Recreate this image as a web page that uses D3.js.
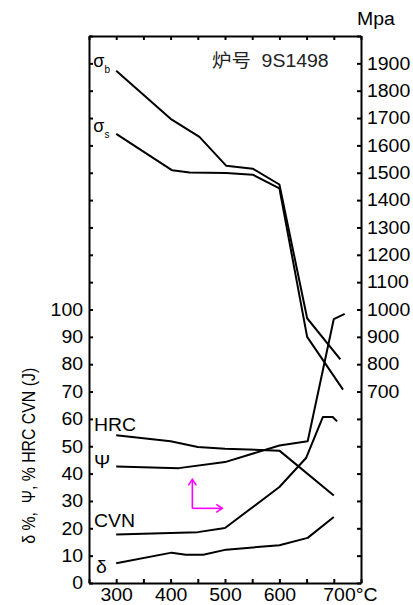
<!DOCTYPE html>
<html>
<head>
<meta charset="utf-8">
<script src="https://cdn.jsdelivr.net/npm/d3@7"></script>
<style>
  body { margin: 0; background: #fff; }
  svg { display: block; font-family: "Liberation Sans", Arial, "Noto Sans CJK SC", sans-serif; }
</style>
</head>
<body>
<div id="chart"></div>
<script>
// 回火温度 (°C)
var temps = [250, 750];
// 左轴：δ %, Ψ %, HRC, CVN (J)
var hrc = [[300, 54.0], [400, 51.8], [450, 49.7], [500, 49.1], [600, 48.4], [700, 32.0]];
var psi = [[300, 42.6], [415, 42.0], [500, 44.2], [600, 50.3], [652, 51.8], [700, 96.5], [720, 98.4]];
var cvn = [[300, 17.7], [450, 18.6], [500, 20.1], [600, 35.1], [649, 45.7], [680, 60.7], [698, 60.7], [706, 59.1]];
var delta = [[300, 7.2], [402, 11.1], [428, 10.3], [460, 10.3], [502, 12.2], [600, 13.8], [652, 16.5], [700, 24.1]];
// 右轴：强度 MPa
var sigmaB = [[300, 1873], [400, 1697], [453, 1631], [502, 1526], [551, 1515], [600, 1457], [651, 968], [712, 818]];
var sigmaS = [[300, 1642], [403, 1509], [435, 1501], [502, 1499], [551, 1493], [600, 1443], [651, 900], [717, 707]];

var W = 413, H = 605;
var margin = { left: 89, right: 52, top: 36, bottom: 22 };
// 原图文字略为横向拉宽
var STRETCH = 1.08;

var svg = d3.select("#chart").append("svg")
    .attr("width", W)
    .attr("height", H);

var x = d3.scaleLinear().domain(temps).range([margin.left, W - margin.right]);
var yL = d3.scaleLinear().domain([0, 200]).range([H - margin.bottom, margin.top]);
var yR = d3.scaleLinear().domain([0, 2000]).range([H - margin.bottom, margin.top]);

// 坐标轴（刻度朝内）
var xTicks = d3.range(250, 751, 50);
var bottom = svg.append("g")
    .attr("transform", "translate(0," + (H - margin.bottom) + ")")
    .call(d3.axisBottom(x).tickValues(xTicks).tickSizeInner(-4).tickSizeOuter(0).tickPadding(5)
        .tickFormat(function (d) {
            if (d % 100 != 0 || d < 300 || d > 700) return "";
            return d == 700 ? "700°C" : d;
        }));
bottom.selectAll(".tick text").filter(function (d) { return d == 700; })
    .attr("text-anchor", "start").attr("dx", -11);

svg.append("g")
    .attr("transform", "translate(0," + margin.top + ")")
    .call(d3.axisTop(x).tickValues(xTicks).tickSizeInner(-4).tickSizeOuter(0).tickFormat(""));

svg.append("g")
    .attr("transform", "translate(" + margin.left + ",0)")
    .call(d3.axisLeft(yL).tickValues(d3.range(0, 201, 10)).tickSizeInner(-4).tickSizeOuter(0).tickPadding(6)
        .tickFormat(function (d) { return d <= 100 ? d : ""; }));

svg.append("g")
    .attr("transform", "translate(" + (W - margin.right) + ",0)")
    .call(d3.axisRight(yR).tickValues(d3.range(0, 2001, 100)).tickSizeInner(-4).tickSizeOuter(0).tickPadding(6)
        .tickFormat(function (d) { return d >= 700 && d <= 1900 ? d : ""; }));

svg.selectAll(".domain").attr("stroke", "#000").attr("stroke-width", 2);
svg.selectAll(".tick line").attr("stroke", "#000").attr("stroke-width", 2);
svg.selectAll(".tick text").attr("font-size", "18px").attr("fill", "#000")
    .attr("font-family", "'Liberation Sans', Arial, sans-serif")
    .attr("class", "wide");

// 曲线
var lineL = d3.line().x(function (d) { return x(d[0]); }).y(function (d) { return yL(d[1]); });
var lineR = d3.line().x(function (d) { return x(d[0]); }).y(function (d) { return yR(d[1]); });

[hrc, psi, cvn, delta].forEach(function (s) {
    svg.append("path").attr("d", lineL(s))
        .attr("fill", "none").attr("stroke", "#000").attr("stroke-width", 2)
        .attr("stroke-linejoin", "round");
});
[sigmaB, sigmaS].forEach(function (s) {
    svg.append("path").attr("d", lineR(s))
        .attr("fill", "none").attr("stroke", "#000").attr("stroke-width", 2)
        .attr("stroke-linejoin", "round");
});

// 曲线标注
function label(t, v, scale, str, sub) {
    var txt = svg.append("text")
        .attr("x", x(t)).attr("y", scale(v))
        .attr("font-size", "18px").attr("fill", "#000")
        .text(str);
    if (sub) {
        txt.append("tspan").attr("font-size", "10px").attr("dy", 6).text(sub);
    } else {
        txt.attr("class", "wide");
    }
}
label(258, 1888, yR, "σ", "b");
label(258, 1648, yR, "σ", "s");
label(259, 55.5, yL, "HRC");
label(259, 42, yL, "Ψ");
label(259, 20.5, yL, "CVN");
label(263, 3.8, yL, "δ");

// 炉号
svg.append("text")
    .attr("x", x(476)).attr("y", yR(1885))
    .attr("font-size", "18px").attr("fill", "#222")
    .attr("class", "wide")
    .style("white-space", "pre")
    .text("炉号  9S1498");

// 单位
svg.append("text")
    .attr("x", W - margin.right - 4).attr("y", 25)
    .attr("font-size", "18px").attr("fill", "#000")
    .attr("class", "wide")
    .text("Mpa");

// 左轴标题
svg.append("text")
    .attr("transform", "translate(35," + yL(46.5) + ") rotate(-90)")
    .attr("text-anchor", "middle")
    .attr("font-size", "18px").attr("fill", "#000")
    .attr("textLength", 176).attr("lengthAdjust", "spacingAndGlyphs")
    .style("white-space", "pre")
    .text("δ %,  Ψ, % HRC CVN (J)");

// 横向拉宽文字
svg.selectAll("text.wide").each(function () {
    var len = this.getComputedTextLength();
    if (len > 0) {
        d3.select(this).attr("textLength", len * STRETCH).attr("lengthAdjust", "spacingAndGlyphs");
    }
});

// 品红色箭头
var ax = x(440), ay = yL(27.3);
var arrow = svg.append("g").attr("stroke", "#ff00ff").attr("stroke-width", 1.6).attr("fill", "none");
arrow.append("path").attr("d", "M" + ax + "," + ay + "V" + yL(37.9));
arrow.append("path").attr("d", "M" + (ax - 4) + "," + (yL(37.9) + 6) + "L" + ax + "," + yL(37.9) + "L" + (ax + 4) + "," + (yL(37.9) + 6));
arrow.append("path").attr("d", "M" + ax + "," + ay + "H" + x(495));
arrow.append("path").attr("d", "M" + (x(495) - 6) + "," + (ay - 4) + "L" + x(495) + "," + ay + "L" + (x(495) - 6) + "," + (ay + 4));
</script>
</body>
</html>
